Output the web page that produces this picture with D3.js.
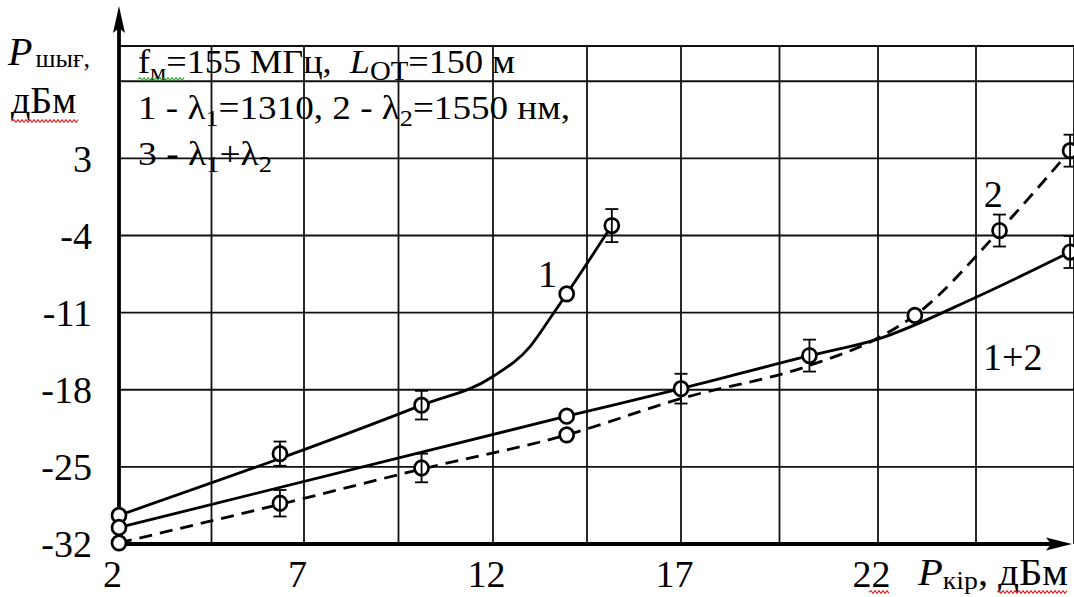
<!DOCTYPE html>
<html>
<head>
<meta charset="utf-8">
<script src="https://cdn.jsdelivr.net/npm/d3@7"></script>
<style>
  html, body { margin: 0; padding: 0; background: #fff; }
  svg { display: block; font-family: "Liberation Serif", "Times New Roman", serif; }
</style>
</head>
<body>
<svg id="chart" width="1074" height="597"></svg>
<script>
// ---- axis ticks and grid ----
const xTicks = [2, 7, 12, 17, 22];
const yTicks = [-32, -25, -18, -11, -4, 3];
const xGrid = [4.5, 7, 9.5, 12, 14.5, 17, 19.5, 22, 24.5, 27];
const yGrid = [-25, -18, -11, -4, 3, 10];

// ---- measured points (P_in, P_out, error half-width in dB) ----
// 1: λ1 = 1310 nm
const s1X = [2, 6.35, 10.11, 13.96, 15.16];
const s1Y = [-29.4, -23.8, -19.4, -9.3, -3.1];
const s1E = [null, 1.1, 1.3, null, 1.5];
// 2: λ2 = 1550 nm
const s2X = [2, 6.35, 10.11, 13.96, 22.94, 25.1, 26.9];
const s2Y = [-31.9, -28.3, -25.1, -22.1, -11.25, -3.55, 3.7];
const s2E = [null, 1.2, 1.3, null, null, 1.45, 1.45];
// 1+2: λ1 + λ2
const s3X = [2, 13.96, 17, 20.26, 26.9];
const s3Y = [-30.5, -20.4, -17.9, -14.9, -5.5];
const s3E = [null, null, 1.35, 1.45, 1.45];

// ---- approximating curves drawn through the measurements ----
const fit1X = [2, 10.11, 12, 12.98, 13.6, 13.96, 15.16];
const fit1Y = [-29.4, -19.4, -16.8, -14.1, -11.1, -9.3, -3.1];
const fit2X = [2, 6.35, 10.11, 13.96, 17, 20.26, 22, 22.94, 25.1, 26.9];
const fit2Y = [-31.9, -28.4, -25.2, -22.1, -18.8, -15.8, -13.3, -11.25, -3.55, 3.7];
const fit3X = [2, 13.96, 17, 20.26, 22, 24.5, 26.9];
const fit3Y = [-30.5, -20.4, -17.9, -14.9, -13.4, -9.6, -5.5];

const svg = d3.select("#chart");

const x = d3.scaleLinear()
  .domain([2, 7, 12, 17, 22, 27])
  .range([119, 304, 493, 681, 878, 1074]);
const y = d3.scaleLinear()
  .domain([-32, 13.2])
  .range([544, 46]);

const ink = "#111";

// grid
const grid = svg.append("g").attr("stroke", ink).attr("stroke-width", 1.8);
grid.selectAll("line.v").data(xGrid).join("line")
  .attr("x1", d => x(d)).attr("x2", d => x(d))
  .attr("y1", y.range()[1]).attr("y2", y.range()[0]);
grid.selectAll("line.h").data(yGrid).join("line")
  .attr("x1", x(2)).attr("x2", x(27))
  .attr("y1", d => y(d)).attr("y2", d => y(d));
grid.append("line")
  .attr("x1", x(2)).attr("x2", x(27))
  .attr("y1", y.range()[1]).attr("y2", y.range()[1]);

// axes with arrows
const axes = svg.append("g").attr("stroke", "#000").attr("stroke-width", 3.8);
axes.append("line").attr("x1", x(2)).attr("x2", 1058).attr("y1", y(-32)).attr("y2", y(-32));
axes.append("line").attr("x1", x(2)).attr("x2", x(2)).attr("y1", y(-32) + 1.5).attr("y2", 20);
svg.append("path")
  .attr("d", `M1072,${y(-32)} L1046,${y(-32) - 6.5} L1051,${y(-32)} L1046,${y(-32) + 6.5} Z`)
  .attr("fill", "#000");
svg.append("path")
  .attr("d", `M${x(2)},6 L${x(2) - 6},33 L${x(2)},28 L${x(2) + 6},33 Z`)
  .attr("fill", "#000");

// tick labels
const yAxis = svg.append("g")
  .attr("transform", `translate(${x(2)},0)`)
  .call(d3.axisLeft(y).tickValues(yTicks).tickSize(0).tickPadding(27).tickFormat(d => d));
yAxis.select(".domain").remove();
yAxis.selectAll("text")
  .attr("font-family", "Liberation Serif").attr("font-size", 38).attr("fill", "#000")
  .attr("dy", "0.34em");

const xAxis = svg.append("g")
  .attr("transform", `translate(0,${y(-32)})`)
  .call(d3.axisBottom(x).tickValues(xTicks).tickSize(0).tickPadding(16).tickFormat(d => d));
xAxis.select(".domain").remove();
xAxis.selectAll("text")
  .attr("font-family", "Liberation Serif").attr("font-size", 38).attr("fill", "#000")
  .attr("dx", -7);

// curves
const line = d3.line().x(d => x(d[0])).y(d => y(d[1])).curve(d3.curveMonotoneX);
const curves = [
  { xs: fit1X, ys: fit1Y, dash: null },
  { xs: fit3X, ys: fit3Y, dash: null },
  { xs: fit2X, ys: fit2Y, dash: "13 8" }
];
svg.append("g").selectAll("path").data(curves).join("path")
  .attr("d", c => line(d3.zip(c.xs, c.ys)))
  .attr("fill", "none").attr("stroke", "#000").attr("stroke-width", 2.8)
  .attr("stroke-dasharray", c => c.dash);

// markers and error bars
const series = [
  d3.zip(s1X, s1Y, s1E),
  d3.zip(s2X, s2Y, s2E),
  d3.zip(s3X, s3Y, s3E)
];
const pts = series.flat();
svg.append("g").selectAll("ellipse").data(pts).join("ellipse")
  .attr("cx", d => x(d[0])).attr("cy", d => y(d[1]))
  .attr("rx", 7).attr("ry", 7.3)
  .attr("fill", "#fff").attr("stroke", "#000").attr("stroke-width", 2.7);
const eb = svg.append("g").attr("stroke", "#000").attr("stroke-width", 1.8);
const withErr = pts.filter(d => d[2] != null);
eb.selectAll("line.bar").data(withErr).join("line")
  .attr("x1", d => x(d[0])).attr("x2", d => x(d[0]))
  .attr("y1", d => y(d[1] - d[2])).attr("y2", d => y(d[1] + d[2]));
eb.selectAll("line.top").data(withErr).join("line")
  .attr("x1", d => x(d[0]) - 6.5).attr("x2", d => x(d[0]) + 6.5)
  .attr("y1", d => y(d[1] + d[2])).attr("y2", d => y(d[1] + d[2]));
eb.selectAll("line.bot").data(withErr).join("line")
  .attr("x1", d => x(d[0]) - 6.5).attr("x2", d => x(d[0]) + 6.5)
  .attr("y1", d => y(d[1] - d[2])).attr("y2", d => y(d[1] - d[2]));

// curve numbers
const curveLabels = [
  { t: "1", px: 13.2, py: -8.7 },
  { t: "2", px: 24.7, py: -1.4 },
  { t: "1+2", px: 24.68, py: -16.2 }
];
svg.append("g").selectAll("text").data(curveLabels).join("text")
  .attr("x", d => x(d.px)).attr("y", d => y(d.py))
  .attr("font-size", 38).attr("fill", "#000")
  .text(d => d.t);

// legend block
const leg = svg.append("g").attr("font-size", 34).attr("fill", "#000");
const l1 = leg.append("text").attr("x", 138).attr("y", 73)
  .attr("textLength", 377).attr("lengthAdjust", "spacingAndGlyphs");
l1.append("tspan").text("f");
l1.append("tspan").attr("font-size", 24).attr("dy", 7).text("м");
l1.append("tspan").attr("dy", -7).text("=155 МГц,\u00a0\u00a0");
l1.append("tspan").attr("font-style", "italic").text("L");
l1.append("tspan").attr("font-size", 27).attr("dy", 7).text("ОТ");
l1.append("tspan").attr("dy", -7).text("=150 м");

const l2 = leg.append("text").attr("x", 138).attr("y", 119)
  .attr("textLength", 432).attr("lengthAdjust", "spacingAndGlyphs");
l2.append("tspan").text("1 - λ");
l2.append("tspan").attr("font-size", 24).attr("dy", 7).text("1");
l2.append("tspan").attr("dy", -7).text("=1310, 2 - λ");
l2.append("tspan").attr("font-size", 24).attr("dy", 7).text("2");
l2.append("tspan").attr("dy", -7).text("=1550 нм,");

const l3 = leg.append("text").attr("x", 138).attr("y", 165)
  .attr("textLength", 134).attr("lengthAdjust", "spacingAndGlyphs");
l3.append("tspan").text("3 - λ");
l3.append("tspan").attr("font-size", 24).attr("dy", 7).text("1");
l3.append("tspan").attr("dy", -7).text("+λ");
l3.append("tspan").attr("font-size", 24).attr("dy", 7).text("2");

// axis titles
const yt = svg.append("text").attr("x", 8).attr("y", 65).attr("font-size", 40).attr("fill", "#000");
yt.append("tspan").attr("font-style", "italic").text("P");
yt.append("tspan").attr("font-size", 26).attr("dy", 2).attr("dx", 3).text("шығ,");
svg.append("text").attr("x", 11).attr("y", 113).attr("font-size", 38).attr("fill", "#000").text("дБм");

const xt = svg.append("text").attr("x", 918).attr("y", 585).attr("font-size", 38).attr("fill", "#000")
  .attr("textLength", 150).attr("lengthAdjust", "spacingAndGlyphs");
xt.append("tspan").attr("font-style", "italic").text("P");
xt.append("tspan").attr("font-size", 26).attr("dy", 4).text("кір");
xt.append("tspan").attr("dy", -4).text(", дБм");

// proofing squiggles under words
function squiggle(x0, x1, yy, color) {
  const p = d3.path();
  p.moveTo(x0, yy);
  let up = true;
  for (let xx = x0 + 2; xx <= x1; xx += 2) { p.lineTo(xx, yy + (up ? -1.3 : 1.3)); up = !up; }
  svg.append("path").attr("d", p.toString()).attr("fill", "none")
    .attr("stroke", color).attr("stroke-width", 1.1);
}
squiggle(12, 79, 121, "#e02020");
squiggle(138, 184, 79, "#30a030");
squiggle(869, 890, 592, "#e02020");
squiggle(997, 1067, 592, "#e02020");
</script>
</body>
</html>
